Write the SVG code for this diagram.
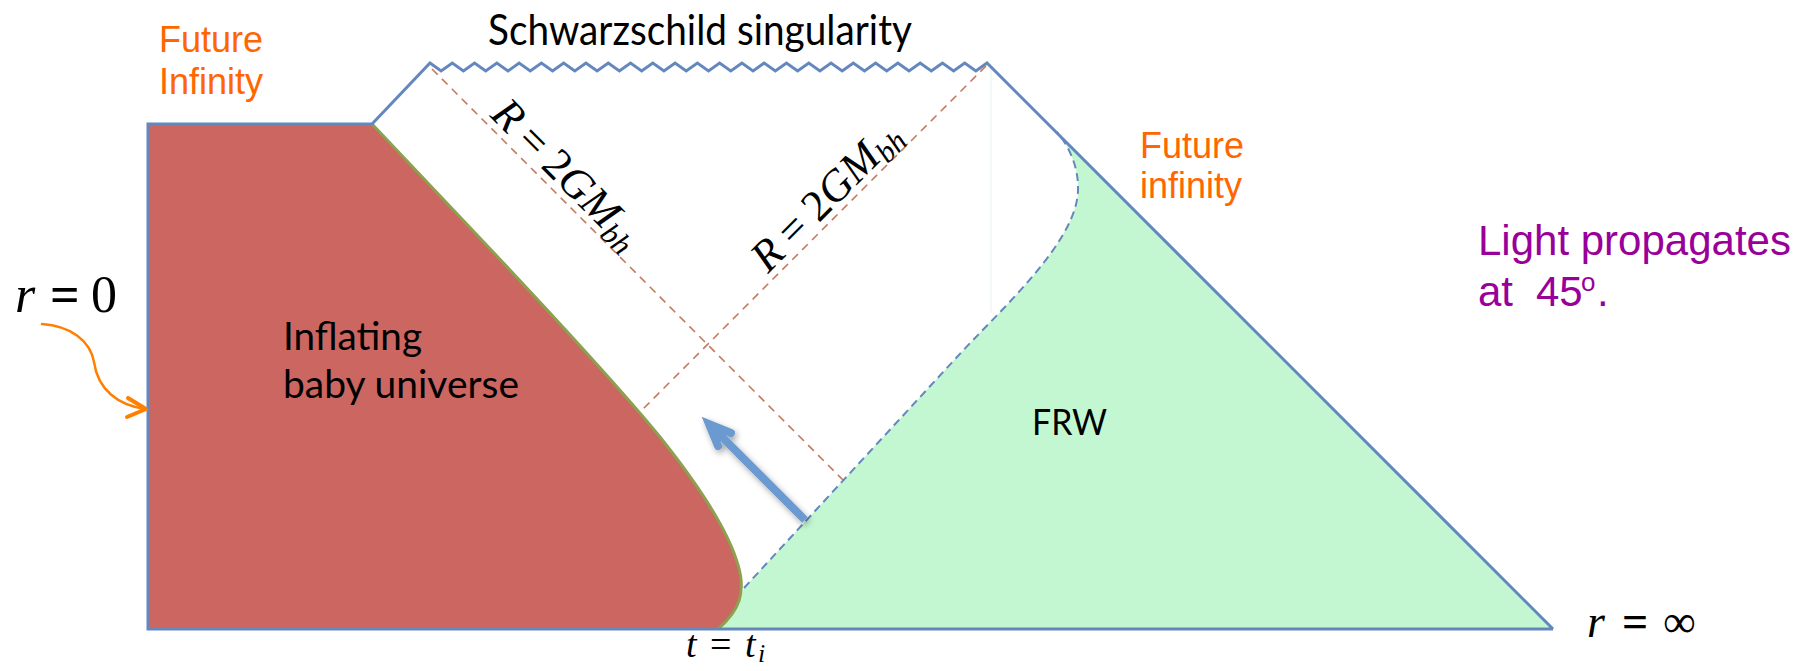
<svg xmlns="http://www.w3.org/2000/svg" width="1807" height="671" viewBox="0 0 1807 671">
<defs>
<style>
.outline{fill:none;stroke:#6487be;stroke-width:3;stroke-linejoin:miter}
.rdash{fill:none;stroke:#c47a60;stroke-width:1.6;stroke-dasharray:8 6}
.bdash{fill:none;stroke:#6487be;stroke-width:2;stroke-dasharray:8 5}
.cal{font-family:Lato,'Open Sans',sans-serif;fill:#000}
.ora{font-family:'Liberation Sans',Arial,sans-serif;fill:#ff6600;font-size:36px}
.math{font-family:'Liberation Serif','Times New Roman',serif;fill:#000}
.it{font-style:italic}
.purple{font-family:'Liberation Sans',Arial,sans-serif;fill:#990099;font-size:42px}
</style>
<filter id="shadow" x="-30%" y="-30%" width="160%" height="160%">
<feDropShadow dx="2" dy="3" stdDeviation="3" flood-color="#000" flood-opacity="0.35"/>
</filter>
</defs>
<rect width="1807" height="671" fill="#ffffff"/>

<g id="frw-region">
<path d="M716,629 C735,612 741,600 744,588 L957,357 C1000,310 1080,240 1078,187 C1078,165 1068,145 1057,132 L1553,629 Z" fill="#c3f7d2"/>
<text class="cal" x="1032" y="435" font-size="37" textLength="75" lengthAdjust="spacingAndGlyphs">FRW</text>
</g>

<g id="baby-universe">
<path d="M148,124 L372,124 L460,217 C550,312 615,382 660,437 C700,487 728,530 738,565 C746,592 740,610 718,629 L148,629 Z" fill="#cc6660"/>
<path d="M372,124 L460,217 C550,312 615,382 660,437 C700,487 728,530 738,565 C746,592 740,610 718,629" fill="none" stroke="#8ca050" stroke-width="3"/>
<text class="cal" font-size="38"><tspan x="283" y="350" textLength="139" lengthAdjust="spacingAndGlyphs">Inflating</tspan><tspan x="283" y="398" textLength="236" lengthAdjust="spacingAndGlyphs">baby universe</tspan></text>
</g>

<g id="spacetime-boundary">
<line x1="991" y1="66" x2="991" y2="313" stroke="#e6f2f2" stroke-width="1"/>
<path class="outline" d="M1553,629 L148,629 L148,124 L372,124 L430,63
l11.14,8 l11.14,-8 l11.14,8 l11.14,-8 l11.14,8 l11.14,-8 l11.14,8 l11.14,-8 l11.14,8 l11.14,-8
l11.14,8 l11.14,-8 l11.14,8 l11.14,-8 l11.14,8 l11.14,-8 l11.14,8 l11.14,-8 l11.14,8 l11.14,-8
l11.14,8 l11.14,-8 l11.14,8 l11.14,-8 l11.14,8 l11.14,-8 l11.14,8 l11.14,-8 l11.14,8 l11.14,-8
l11.14,8 l11.14,-8 l11.14,8 l11.14,-8 l11.14,8 l11.14,-8 l11.14,8 l11.14,-8 l11.14,8 l11.14,-8
l11.14,8 l11.14,-8 l11.14,8 l11.14,-8 l11.14,8 l11.14,-8 l11.14,8 l11.14,-8 l11.14,8 l11.14,-8
L1553,629"/>
</g>

<g id="connectors">
<path class="bdash" d="M744,588 L957,357 C1000,310 1080,240 1078,187 C1078,165 1068,145 1057,132"/>
<line class="rdash" x1="432" y1="69" x2="843" y2="480"/>
<line class="rdash" x1="986" y1="66" x2="639" y2="413"/>
<g filter="url(#shadow)" stroke="#6b9ad0" stroke-width="8" fill="none">
<line x1="805" y1="520" x2="712" y2="427"/>
<polyline points="731,433 709,424 718,446" stroke-linejoin="miter" stroke-linecap="round"/>
</g>
<g stroke="#ff8000" fill="none" stroke-linecap="round">
<path d="M42,324 C70,326 90,340 94,362 C98,390 118,405 145,409" stroke-width="2.5"/>
<polyline points="128,398 146,409 127,417" stroke-width="4" stroke-linejoin="round"/>
</g>
</g>

<g id="labels">
<text class="cal" x="488" y="45" font-size="42" textLength="424" lengthAdjust="spacingAndGlyphs">Schwarzschild singularity</text>
<text class="ora"><tspan x="159" y="52">Future</tspan><tspan x="159" y="94">Infinity</tspan></text>
<text class="ora"><tspan x="1140" y="158">Future</tspan><tspan x="1140" y="198">infinity</tspan></text>
<text class="purple"><tspan x="1478" y="255">Light propagates</tspan><tspan x="1478" y="306">at</tspan><tspan x="1536" y="306">45</tspan><tspan x="1581" y="291" font-size="26">o</tspan><tspan x="1597" y="306">.</tspan></text>
<text class="math" font-size="52"><tspan class="it" x="15" y="312">r</tspan><tspan x="50" y="312" font-weight="bold">=</tspan><tspan x="91" y="312">0</tspan></text>
<text class="math" font-size="46"><tspan class="it" x="1587" y="637">r</tspan><tspan x="1622" y="637" font-weight="bold">=</tspan><tspan x="1663" y="637">∞</tspan></text>
<text class="math" font-size="38"><tspan class="it" x="686" y="657">t</tspan><tspan x="710" y="657">=</tspan><tspan class="it" x="745" y="657">t</tspan><tspan class="it" x="758" y="662" font-size="26">i</tspan></text>
<text class="math" font-size="44" transform="translate(489,116) rotate(45)"><tspan class="it">R</tspan><tspan dx="10">=</tspan><tspan dx="10">2</tspan><tspan class="it">GM</tspan><tspan class="it" font-size="30" dy="7">bh</tspan></text>
<text class="math" font-size="44" transform="translate(768,274) rotate(-45)"><tspan class="it">R</tspan><tspan dx="10">=</tspan><tspan dx="10">2</tspan><tspan class="it">GM</tspan><tspan class="it" font-size="30" dy="7">bh</tspan></text>
</g>
</svg>
